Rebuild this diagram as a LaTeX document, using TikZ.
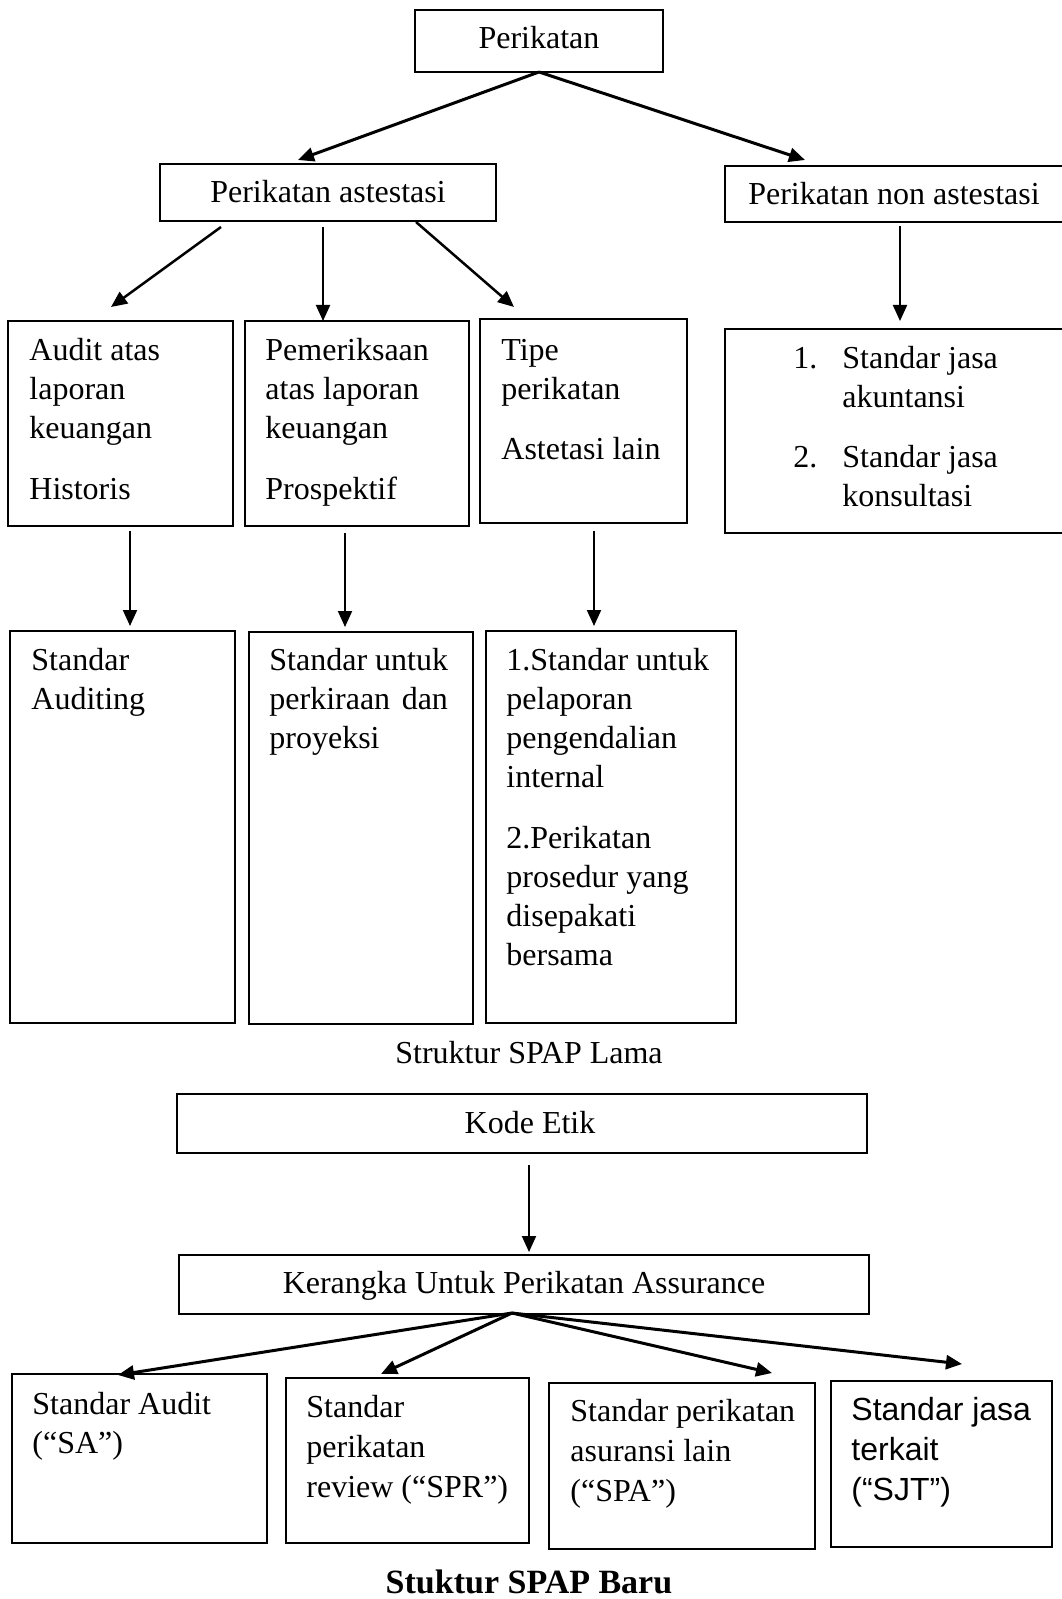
\documentclass[tikz,border=0pt]{standalone}
\usepackage{fontspec}
\setmainfont{Liberation Serif}
\newfontfamily\arialfont{Liberation Sans}
\usetikzlibrary{arrows.meta}
\newcommand\myTopStrut{\rule{0pt}{12pt}}
\begin{document}
\begin{tikzpicture}[x=0.5pt,y=-0.5pt,
  box/.style={draw, line width=1pt, inner sep=0pt, outer sep=0pt, anchor=north west},
  txt/.style={anchor=north west, inner sep=0pt, align=left, font=\fontsize{16}{19.5}\selectfont},
  txtb/.style={anchor=north west, inner sep=0pt, align=left, font=\fontsize{16}{20}\selectfont},
  lbl/.style={anchor=base, inner sep=0pt, font=\fontsize{16}{19.5}\selectfont},
  tip/.style={-{Triangle[length=8pt,width=7pt]}},
  thickarr/.style={tip, line width=1.5pt},
  midarr/.style={tip, line width=1.25pt},
  thinarr/.style={tip, line width=1pt},
]
\useasboundingbox (0,0) rectangle (1061,1599);

% ---------- boxes ----------
\node[box, minimum width=124pt,   minimum height=31pt]   (per)  at (415,10)   {};
\node[box, minimum width=168pt,   minimum height=28.5pt] (ast)  at (160,164)  {};
\node[box, minimum width=175pt,   minimum height=28pt]   (non)  at (725,166)  {};
\node[box, minimum width=112.5pt, minimum height=102.5pt](aud)  at (8,321)    {};
\node[box, minimum width=112pt,   minimum height=102.5pt](pem)  at (245,321)  {};
\node[box, minimum width=103.5pt, minimum height=102pt]  (tipe) at (480,319)  {};
\node[box, minimum width=175pt,   minimum height=102pt]  (rig)  at (725,329)  {};
\node[box, minimum width=112.5pt, minimum height=196pt]  (sau)  at (10,631)   {};
\node[box, minimum width=112pt,   minimum height=196pt]  (sun)  at (249,632)  {};
\node[box, minimum width=125pt,   minimum height=196pt]  (spl)  at (486,631)  {};
\node[box, minimum width=345pt,   minimum height=29.5pt] (kode) at (177,1094) {};
\node[box, minimum width=345pt,   minimum height=29.5pt] (ker)  at (179,1255) {};
\node[box, minimum width=127.5pt, minimum height=84.5pt] (sa)   at (12,1374)  {};
\node[box, minimum width=121.5pt, minimum height=82.5pt] (spr)  at (286,1378) {};
\node[box, minimum width=133pt,   minimum height=83pt]   (spa)  at (549,1383) {};
\node[box, minimum width=110.5pt, minimum height=83pt]   (sjt)  at (831,1381) {};

% ---------- texts ----------
\node[lbl] (tper) at (539,49)  {Perikatan};
\node[lbl] (tast) at (328,203) {Perikatan astestasi};
\node[lbl] (tnon) at (894,205) {Perikatan non astestasi};
\node[txt] (taud) at (29,336)  {\myTopStrut Audit atas\\laporan\\keuangan\\[11pt]Historis};
\node[txt] (tpem) at (265,336) {\myTopStrut Pemeriksaan\\atas laporan\\keuangan\\[11pt]Prospektif};
\node[txt] (ttip) at (501,336) {\myTopStrut Tipe\\perikatan\\[10.5pt]Astetasi lain};
\node[txt] (trig) at (793,344) {\myTopStrut\makebox[24.5pt][l]{1.}Standar jasa\\\hspace*{24.5pt}akuntansi\\[10.5pt]\makebox[24.5pt][l]{2.}Standar jasa\\\hspace*{24.5pt}konsultasi};
\node[txt] (tsau) at (31,646)  {\myTopStrut Standar\\Auditing};
\node[txt] (tsun) at (269,646) {\myTopStrut Standar untuk\\perkiraan\hspace{0.36em}dan\\proyeksi};
\node[txt] (tspl) at (506,646) {\myTopStrut 1.Standar untuk\\pelaporan\\pengendalian\\internal\\[11pt]2.Perikatan\\prosedur yang\\disepakati\\bersama};
\node[lbl] (cap1) at (529,1063) {Struktur SPAP Lama};
\node[lbl] (tkode) at (530,1133) {Kode Etik};
\node[lbl] (tker) at (524,1293) {Kerangka Untuk Perikatan Assurance};
\node[txt]  (tsa)  at (32,1390)  {\myTopStrut Standar Audit\\(“SA”)};
\node[txtb] (tspr) at (306,1393) {\myTopStrut Standar\\perikatan\\review (“SPR”)};
\node[txtb] (tspa) at (570,1397) {\myTopStrut Standar perikatan\\asuransi lain\\(“SPA”)};
\node[txtb, font=\arialfont\fontsize{16}{20}\selectfont] (tsjt) at (851,1396) {\myTopStrut Standar jasa\\terkait\\(“SJT”)};
\node[lbl, font=\bfseries\fontsize{17}{20}\selectfont] (cap2) at (529,1593) {Stuktur SPAP Baru};

% ---------- connector ends ----------
\coordinate (tAst) at (298,160);
\coordinate (tNon) at (805,160);
\coordinate (a1s) at (221,227); \coordinate (a1t) at (111,307);
\coordinate (a2s) at (323,227); \coordinate (a2t) at (323,321);
\coordinate (a3s) at (416,222); \coordinate (a3t) at (514,307);
\coordinate (n1s) at (900,226); \coordinate (n1t) at (900,321);
\coordinate (v1s) at (130,531); \coordinate (v1t) at (130,626);
\coordinate (v2s) at (345,533); \coordinate (v2t) at (345,627);
\coordinate (v3s) at (594,531); \coordinate (v3t) at (594,626);
\coordinate (k1s) at (529,1165); \coordinate (k1t) at (529,1252);
\coordinate (fS) at (512,1313);
\coordinate (f1) at (118,1375);
\coordinate (f2) at (381,1374);
\coordinate (f3) at (772,1373);
\coordinate (f4) at (962,1364);

% ---------- connectors ----------
\draw[thickarr] (per.south) -- (tAst);
\draw[thickarr] (per.south) -- (tNon);
\draw[midarr] (a1s) -- (a1t);
\draw[thinarr] (a2s) -- (a2t);
\draw[midarr] (a3s) -- (a3t);
\draw[thinarr] (n1s) -- (n1t);
\draw[thinarr] (v1s) -- (v1t);
\draw[thinarr] (v2s) -- (v2t);
\draw[thinarr] (v3s) -- (v3t);
\draw[thinarr] (k1s) -- (k1t);
\draw[thickarr] (fS) -- (f1);
\draw[thickarr] (fS) -- (f2);
\draw[thickarr] (fS) -- (f3);
\draw[thickarr] (fS) -- (f4);
\end{tikzpicture}
\end{document}
